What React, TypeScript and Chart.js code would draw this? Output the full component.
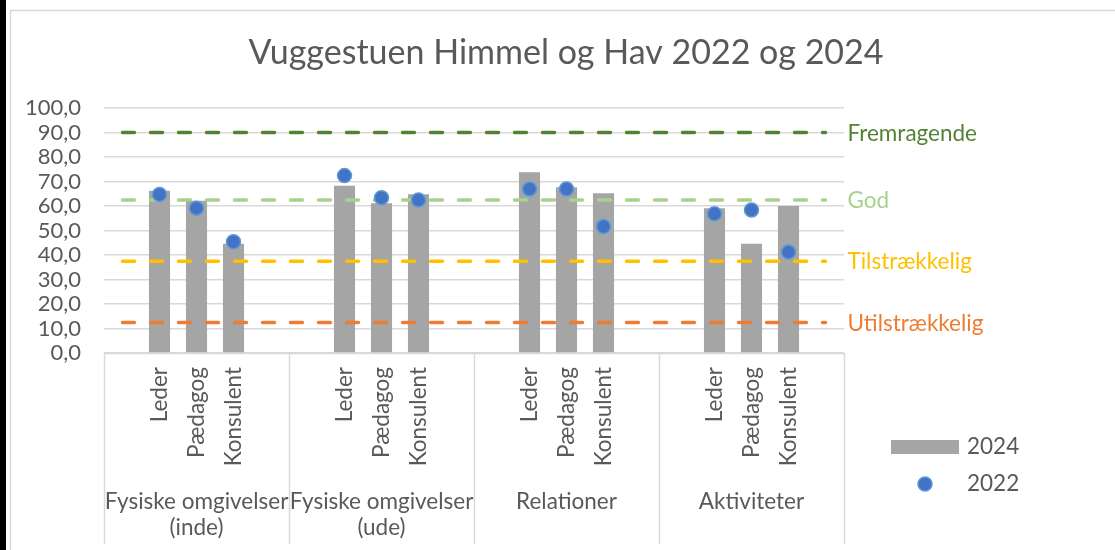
import React, { useEffect, useRef } from 'react';
import { Chart, registerables } from 'chart.js';

Chart.register(...registerables);

// ---------- data ----------
const chartTitle = 'Vuggestuen Himmel og Hav 2022 og 2024';
const groupLabels = [
  ['Fysiske omgivelser', '(inde)'],
  ['Fysiske omgivelser', '(ude)'],
  ['Relationer'],
  ['Aktiviteter'],
];
const slotsPerGroup = 5;
const categoryLabels = [
  '', 'Leder', 'Pædagog', 'Konsulent', '',
  '', 'Leder', 'Pædagog', 'Konsulent', '',
  '', 'Leder', 'Pædagog', 'Konsulent', '',
  '', 'Leder', 'Pædagog', 'Konsulent', '',
];
const values2024 = [
  null, 66.2, 62.1, 44.6, null,
  null, 68.3, 61.1, 64.8, null,
  null, 73.8, 67.7, 65.2, null,
  null, 59.1, 44.6, 60.0, null,
];
const values2022 = [
  null, 64.7, 59.1, 45.4, null,
  null, 72.4, 63.4, 62.4, null,
  null, 66.9, 66.9, 51.6, null,
  null, 56.8, 58.4, 41.2, null,
];
const thresholdNames = ['Fremragende', 'God', 'Tilstrækkelig', 'Utilstrækkelig'];
const thresholdValues = [90, 62.5, 37.5, 12.5];
const thresholdColors = ['#548235', '#A9D18E', '#FFC000', '#ED7D31'];
const seriesNames = ['2024', '2022'];
const yMin = 0;
const yMax = 100;
const yStep = 10;

// ---------- styles ----------
const FONT = 'Lato, "Open Sans", sans-serif';
const TEXT = '#595959';
const GRID = '#D9D9D9';
const BAR = '#A5A5A5';
const DOT = '#4472C4';
const DOT_BORDER = '#5B9BD5';
const LABEL_SIZE = 22.5;

const decorPlugin = {
  id: 'decor',
  beforeDraw(chart: any) {
    const { ctx } = chart;
    ctx.save();
    ctx.fillStyle = '#ffffff';
    ctx.fillRect(0, 0, chart.width, chart.height);
    ctx.fillStyle = '#000000';
    ctx.fillRect(0, 0, 6, chart.height);
    ctx.strokeStyle = GRID;
    ctx.lineWidth = 1.5;
    ctx.strokeRect(10.5, 10.5, chart.width + 50, chart.height + 50);
    ctx.restore();
  },
  afterDraw(chart: any) {
    const { ctx, chartArea, scales } = chart;
    const xs = scales.x;
    const ys = scales.y;
    ctx.save();

    // title
    ctx.fillStyle = TEXT;
    ctx.font = `34px ${FONT}`;
    ctx.textAlign = 'center';
    ctx.textBaseline = 'middle';
    ctx.fillText(chartTitle, 566, 53);

    // multi-level axis box
    const bounds: number[] = [chartArea.left];
    for (let g = 1; g < groupLabels.length; g++) {
      bounds.push(xs.getPixelForValue(g * slotsPerGroup - 0.5));
    }
    bounds.push(chartArea.right);
    ctx.strokeStyle = GRID;
    ctx.lineWidth = 1.5;
    ctx.beginPath();
    ctx.moveTo(chartArea.left, chartArea.bottom + 0.5);
    ctx.lineTo(chartArea.right, chartArea.bottom + 0.5);
    bounds.forEach((b) => {
      ctx.moveTo(Math.round(b) + 0.5, chartArea.bottom);
      ctx.lineTo(Math.round(b) + 0.5, 544);
    });
    ctx.stroke();

    // group labels
    ctx.fillStyle = TEXT;
    ctx.font = `${LABEL_SIZE}px ${FONT}`;
    ctx.textAlign = 'center';
    groupLabels.forEach((lines, g) => {
      const cx = (bounds[g] + bounds[g + 1]) / 2;
      lines.forEach((t, k) => ctx.fillText(t, cx, 502 + k * 26));
    });

    // threshold labels at the end of each line
    const lastX = xs.getPixelForValue(categoryLabels.length - 1);
    ctx.textAlign = 'left';
    thresholdValues.forEach((v, i) => {
      ctx.fillStyle = thresholdColors[i];
      ctx.fillText(thresholdNames[i], lastX + 22, ys.getPixelForValue(v) + 1);
    });

    // legend
    const lx = chartArea.right + 47;
    ctx.fillStyle = BAR;
    ctx.fillRect(lx, 440, 68, 14);
    ctx.beginPath();
    ctx.arc(lx + 34, 484, 7, 0, Math.PI * 2);
    ctx.fillStyle = DOT;
    ctx.fill();
    ctx.lineWidth = 1.5;
    ctx.strokeStyle = DOT_BORDER;
    ctx.stroke();
    ctx.fillStyle = TEXT;
    ctx.textAlign = 'left';
    ctx.fillText(seriesNames[0], lx + 76, 447);
    ctx.fillText(seriesNames[1], lx + 76, 484);

    ctx.restore();
  },
};

export default function App() {
  const ref = useRef<HTMLCanvasElement>(null);

  useEffect(() => {
    const thresholdSets = thresholdValues.map((v, i) => ({
      type: 'line' as const,
      label: thresholdNames[i],
      data: categoryLabels.map(() => v),
      borderColor: thresholdColors[i],
      backgroundColor: thresholdColors[i],
      borderWidth: 3.5,
      borderDash: [12, 16],
      borderCapStyle: 'round' as const,
      pointRadius: 0,
      fill: false,
      order: 1,
    }));

    const chart = new Chart(ref.current as HTMLCanvasElement, {
      type: 'bar',
      data: {
        labels: categoryLabels,
        datasets: [
          {
            type: 'line',
            label: seriesNames[1],
            data: values2022,
            showLine: false,
            pointRadius: 7,
            pointBackgroundColor: DOT,
            pointBorderColor: DOT_BORDER,
            pointBorderWidth: 1.5,
            order: 0,
          } as any,
          ...thresholdSets,
          {
            type: 'bar',
            label: seriesNames[0],
            data: values2024,
            backgroundColor: BAR,
            barPercentage: 0.57,
            categoryPercentage: 1,
            order: 2,
          } as any,
        ],
      },
      options: {
        responsive: false,
        animation: false,
        events: [],
        layout: { padding: { top: 108, right: 271, bottom: 0, left: 0 } },
        plugins: {
          legend: { display: false },
          title: { display: false },
          tooltip: { enabled: false },
        },
        scales: {
          x: {
            type: 'category',
            offset: true,
            grid: { display: false, drawTicks: false },
            border: { display: false },
            ticks: {
              autoSkip: false,
              minRotation: 90,
              maxRotation: 90,
              padding: 14,
              color: TEXT,
              font: { family: FONT, size: LABEL_SIZE },
            },
            afterFit: (scale: any) => {
              scale.height = 197;
            },
          },
          y: {
            min: yMin,
            max: yMax,
            grid: { color: GRID, lineWidth: 1.5, drawTicks: false },
            border: { display: false },
            ticks: {
              stepSize: yStep,
              autoSkip: false,
              padding: 23,
              color: TEXT,
              font: { family: FONT, size: 22 },
              callback: (v: any) => Number(v).toFixed(1).replace('.', ','),
            },
            afterFit: (scale: any) => {
              scale.width = 104;
            },
          },
        },
      },
      plugins: [decorPlugin],
    });
    return () => chart.destroy();
  }, []);

  return (
    <div style={{ position: 'absolute', left: 0, top: 0, width: 1115, height: 550, background: '#fff' }}>
      <canvas ref={ref} width={1115} height={550} style={{ display: 'block' }} />
    </div>
  );
}
